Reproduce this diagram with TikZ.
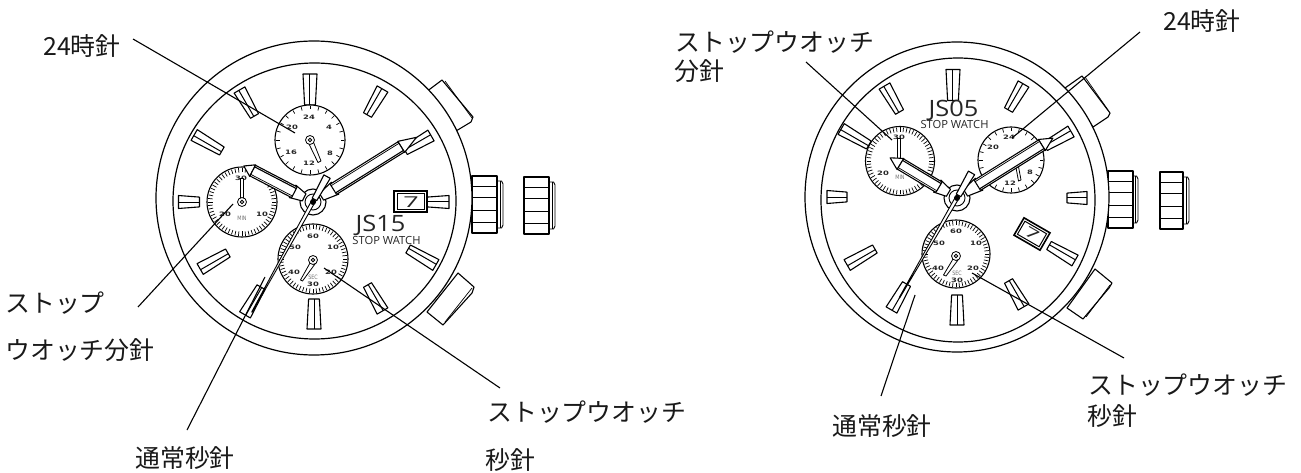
\documentclass[tikz,border=0pt]{standalone}
\usepackage{fontspec}
\usepackage{graphicx}
\setmainfont{Open Sans}
\newfontfamily\jpfont{Noto Sans CJK JP}
\newfontfamily\dialfont{DejaVu Sans}[BoldFont={DejaVu Sans Bold}]
\newcounter{dnc}
\tikzset{
  case/.style={line width=1.2pt,draw=black},
  part/.style={line width=1.1pt,draw=black,fill=white,line join=round},
  thin part/.style={line width=.7pt,draw=black},
  leader/.style={line width=1.1pt,draw=black},
  jlabel/.style={anchor=base west,inner sep=0pt,font=\jpfont\fontsize{24.9}{26}\selectfont,text=black!90},
  brand/.style={inner sep=0pt,text=black!85},
  dialtxt/.style={inner sep=0pt,text=black!85},
}
\newcommand{\wmark}[5]{%
  \begin{scope}[shift={(#1,#2)},rotate=#3]
    \draw[part] ({-#4/2},{-#5-.4}) -- ({#4/2},{-#5-2}) -- ({#4/2},{#5+2}) -- ({-#4/2},{#5+.4}) -- cycle;
    \draw[thin part,line width=1pt] ({-#4/2},-.8) -- ({#4/2},-.8);
  \end{scope}}
\newcommand{\wsub}[6][]{%
  \draw[part] (#2,#3) circle (#4);
  \begin{scope}[shift={(#2,#3)}]
    \foreach \a in {0,#5,...,359} {\draw[line width=#6pt] (\a:{#4-1}) -- (\a:{#4-#1});}
  \end{scope}}
\newcommand{\dn}[3]{\stepcounter{dnc}\node[dialtxt] (dn\thednc) at (#1,#2)
  {\scalebox{1.4}[1]{\dialfont\bfseries\fontsize{6}{7}\selectfont #3}};}
\newcommand{\dnsmall}[3]{\stepcounter{dnc}\node[dialtxt,text=black!55] (dn\thednc) at (#1,#2)
  {\scalebox{.8}[1]{\dialfont\fontsize{6}{7}\selectfont #3}};}
\newcommand{\whand}[6]{%
  \begin{scope}[shift={(#1,#2)},rotate=#3]
    \draw[part] (10,-4) -- ({#4+2},-7) -- ({#4+2},7) -- (10,4) -- cycle;
    \draw[part] (#5,-6.5) -- (#6,0) -- (#5,6.5) -- cycle;
    \draw[part] (#4,-6) -- (#5,-6) -- (#5,6) -- (#4,6) -- cycle;
    \draw[line width=1.1pt] (#4,4.2) -- (#5,4.2);
    \draw[line width=.7pt] (#4,-4.2) -- (#5,-4.2);
  \end{scope}}
\newcommand{\wsec}[4]{%
  \begin{scope}[shift={(#1,#2)},rotate=#3]
    \draw[part] (-29,-3.6) -- (-3,-2.6) -- (-3,2.6) -- (-29,3.6) -- cycle;
    \draw[part,line width=.9pt] (-2,-1.9) -- (#4,-.3) -- (#4,.3) -- (-2,1.9) -- cycle;
  \end{scope}}
\newcommand{\wcrown}[5]{%
  \begin{scope}[shift={(#1,#2)}]
    \draw[part,line width=.9pt] (#4,5) -- ({#4+#5-1.5},5) -- ({#4+#5},8) -- ({#4+#5},{#3-8}) -- ({#4+#5-1.5},{#3-5}) -- (#4,{#3-5}) -- cycle;
    \draw[line width=.7pt] ({#4+#5-3},5) -- ({#4+#5-3},{#3-5});
    \draw[part,line width=1.4pt] (0,0) rectangle (#4,#3);
    \foreach \f in {.19,.37,.6,.81} {\draw[line width=.7pt] (0,{\f*#3}) -- (#4,{\f*#3});}
  \end{scope}}
\begin{document}
\begin{tikzpicture}[x=1pt,y=-1pt]
\useasboundingbox (0,0) rectangle (1301,473);

%%%%%%%%%%%%%%% LEFT WATCH
\wcrown{472}{176}{57}{25}{6}
\wcrown{524}{177}{57}{25}{6}
\draw[part] (426,92) -- (442,80) -- (473,117) -- (471,122) -- (456,131) -- cycle;
\draw[thin part] (445,81) -- (472,118);
\draw[part] (427,312) -- (458,273) -- (474,287) -- (472,293) -- (443,325) -- cycle;
\draw[thin part] (445,322) -- (472,288);
\draw[case,fill=white] (314,198) ellipse [x radius=158,y radius=157];
\draw[case] (314.5,201) ellipse [x radius=141.5,y radius=138];

\wmark{310}{89.5}{90}{31}{5}
\wmark{375}{102}{60}{30}{4.2}
\wmark{418}{143}{30}{30}{4.2}
\wmark{438}{202}{0}{22}{4.5}
\wmark{422}{257}{-30}{32}{4.2}
\wmark{375}{298}{-60}{30}{4.2}
\wmark{314}{314}{-90}{30}{5}
\wmark{253}{301}{-120}{32}{4.2}
\wmark{214}{261}{-150}{32}{4.2}
\wmark{189}{202}{180}{21}{4.5}
\wmark{208}{143}{150}{32}{4.2}
\wmark{247}{103}{120}{30}{4.2}

\wsub[4.5]{310}{140}{35}{15}{.7}
\wsub[5.5]{242}{202}{35}{6}{.7}
\wsub[5.5]{313}{259}{35}{6}{.7}
\dn{309}{117}{24}\dn{329}{127}{4}\dn{330}{153}{8}\dn{309}{163}{12}\dn{291}{152}{16}\dn{292}{127}{20}
\dn{241}{178}{30}\dn{225}{214}{20}\dn{262}{214}{10}\dnsmall{242}{218}{MIN}
\dn{313}{236}{60}\dn{295}{247}{50}\dn{333}{247}{10}\dn{294}{272}{40}\dn{331}{272}{20}\dn{313}{284}{30}\dnsmall{313}{277}{SEC}

\draw[part,line width=.8pt] (308.5,143) -- (318,162.5) -- (321,161) -- (313,141) -- cycle;
\draw[part,line width=.8pt] (310,140) circle (4.5);
\draw[line width=.8pt] (310,140) circle (1.8);
\draw[part,line width=.8pt] (240.5,178) -- (240.5,198) -- (243.5,198) -- (243.5,178) -- cycle;
\draw[part,line width=.8pt] (242,202) circle (4.5);
\draw[line width=.8pt] (242,202) circle (1.8);
\draw[part,line width=.8pt] (310,263) -- (300.5,280) -- (302.5,281) -- (315,264) -- cycle;
\draw[part,line width=.8pt] (313,260) circle (4.5);
\draw[line width=.8pt] (313,260) circle (1.8);

\node[brand] (brandL) at (380.5,225) {\scalebox{1.13}[1]{\fontsize{22.5}{24}\selectfont JS15}};
\node[brand,font=\fontsize{11.2}{13}\selectfont] (stopL) at (386.5,240.5) {STOP WATCH};
\draw[line width=1.6pt,fill=white] (394,191) rectangle (427,212);
\draw[line width=1pt] (397,194) rectangle (424.5,209.5);
\node[brand] (dateL) at (411,202) {\scalebox{1.8}[1]{\fontsize{15}{15}\selectfont 7}};

\draw[part] (313,202) circle (13);
\whand{313}{202}{152.5}{21}{68}{78}
\whand{313}{202}{32}{24}{104}{122}
\draw[line width=.9pt,fill=white] (313,202) circle (8);
\wsec{313}{202}{241}{126}
\fill (313,202) circle (3);

%%%%%%%%%%%%%%% RIGHT WATCH
\wcrown{1108}{171}{57}{25}{5}
\wcrown{1160}{172}{57}{23}{6}
\draw[part] (1065,88) -- (1082,76) -- (1110,113) -- (1108,117) -- (1093,127) -- cycle;
\draw[thin part] (1085,77) -- (1108,110);
\draw[part] (1067,308) -- (1095,269) -- (1112,283) -- (1109,288) -- (1083,319) -- cycle;
\draw[thin part] (1086,317) -- (1110,285);
\draw[case,fill=white] (957,197) ellipse [x radius=152,y radius=155];
\draw[case] (958,200) ellipse [x radius=137,y radius=142];

\wmark{953}{85}{90}{31}{5}
\wmark{1016}{97}{60}{30}{4.2}
\wmark{1058}{139}{30}{30}{4.2}
\wmark{1077}{198}{0}{20}{4.5}
\wmark{1062}{253}{-30}{30}{4.2}
\wmark{1016}{294}{-60}{30}{4.2}
\wmark{957}{310}{-90}{30}{5}
\wmark{899}{297}{-120}{30}{4.2}
\wmark{861}{257}{-150}{32}{4.2}
\wmark{837}{197}{180}{20}{4.5}
\wmark{855}{137}{150}{32}{4.2}
\wmark{892}{99}{120}{30}{4.2}

\wsub[5.5]{900}{161}{34.5}{6}{.7}
\wsub[4.5]{1011}{160}{33}{15}{.7}
\wsub[5.5]{956}{254}{34}{6}{.7}
\dn{899}{137}{30}\dn{883}{173}{20}\dnsmall{900}{177}{MIN}
\dn{1009}{137}{24}\dn{993}{147}{20}\dn{1030}{172}{8}\dn{1010}{183}{12}
\dn{956}{231}{60}\dn{939}{243}{50}\dn{976}{243}{10}\dn{938}{268}{40}\dn{973}{268}{20}\dn{957}{280}{30}\dnsmall{957}{273}{SEC}

\draw[part,line width=.8pt] (897,138) -- (897,160) -- (900,160) -- (900,138) -- cycle;
\draw[part,line width=.8pt] (1015.5,165) -- (1018.5,181) -- (1021,180) -- (1018,164) -- cycle;
\draw[part,line width=.8pt] (953,259) -- (943.5,275) -- (946,276) -- (958,260) -- cycle;
\draw[part,line width=.8pt] (956,256) circle (4.5);
\draw[line width=.8pt] (956,256) circle (1.8);

\node[brand] (brandR) at (953.5,110) {\scalebox{1.13}[1]{\fontsize{22.5}{24}\selectfont JS05}};
\node[brand,font=\fontsize{11.2}{13}\selectfont] (stopR) at (954.5,124.5) {STOP WATCH};
\begin{scope}[shift={(1032,234)},rotate=-30]
  \draw[line width=1.6pt,fill=white] (-15,-10) rectangle (15,10);
  \draw[line width=1pt] (-12.5,-7.5) rectangle (12.5,7.5);
  \node[brand,rotate=-30] (dateR) at (0,0) {\scalebox{1.8}[1]{\fontsize{14}{14}\selectfont 7}};
\end{scope}

\draw[part] (957,198) circle (13);
\whand{957}{198}{149}{21}{66}{78}
\whand{957}{198}{32}{24}{100}{113}
\draw[line width=.9pt,fill=white] (957,198) circle (8);
\wsec{957}{198}{240}{115}
\fill (957,198) circle (3);

%%%%%%%%%%%%%%% LABELS
\node[jlabel] (a24) at (43,56) {24時針};
\node[jlabel] (amin1) at (5,312) {ストップ};
\node[jlabel] (amin2) at (5,359) {ウオッチ分針};
\node[jlabel] (asec) at (135,467) {通常秒針};
\node[jlabel] (asw1) at (487,421) {ストップウオッチ};
\node[jlabel] (asw2) at (485,469) {秒針};
\node[jlabel] (bmin1) at (675,52) {ストップウオッチ};
\node[jlabel] (bmin2) at (674,81) {分針};
\node[jlabel] (b24) at (1163,31) {24時針};
\node[jlabel] (bsec) at (832,435) {通常秒針};
\node[jlabel] (bsw1) at (1088,394) {ストップウオッチ};
\node[jlabel] (bsw2) at (1087,425) {秒針};

%%%%%%%%%%%%%%% LEADERS
\coordinate (l1a) at (133,39); \coordinate (l1b) at (295,133);
\coordinate (l2a) at (138,307); \coordinate (l2b) at (233,204);
\coordinate (l3a) at (187,430); \coordinate (l3b) at (265,277);
\coordinate (l4a) at (500,388); \coordinate (l4b) at (324,268);
\coordinate (r1a) at (806,62); \coordinate (r1b) at (892,140);
\coordinate (r2a) at (1140,32); \coordinate (r2b) at (1012,138);
\coordinate (r3a) at (881,396); \coordinate (r3b) at (915,295);
\coordinate (r4a) at (1124,358); \coordinate (r4b) at (972,273);
\foreach \p in {l1,l2,l3,l4,r1,r2,r3,r4} {\draw[leader] (\p a) -- (\p b);}
\end{tikzpicture}
\end{document}
